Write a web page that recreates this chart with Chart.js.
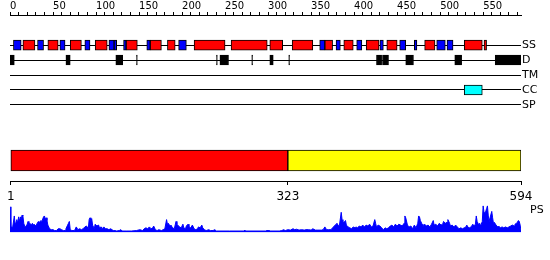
<!DOCTYPE html>
<html>
<head>
<meta charset="utf-8">
<script src="https://cdn.jsdelivr.net/npm/chart.js@4/dist/chart.umd.min.js"></script>
<style>
    html, body { margin: 0; padding: 0; background: #fff; }
    #wrap { position: relative; width: 550px; height: 260px; overflow: hidden; }
    #wrap canvas { position: absolute; left: 0; }
</style>
</head>
<body>
<div id="wrap">
    <canvas id="ruler" width="550" height="20" style="top:0"></canvas>
    <canvas id="tracks" width="550" height="90" style="top:30px"></canvas>
    <canvas id="domains" width="550" height="75" style="top:130px"></canvas>
    <canvas id="profile" width="550" height="45" style="top:195px"></canvas>
</div>
<script>
const seqLength = 594;
const rulerStep = 10;
const rulerLabelStep = 50;
const trackNames = ['SS', 'D', 'TM', 'CC', 'SP'];

// secondary structure: helix (red) and strand (blue)
const helices = [[15, 29], [44, 56], [70, 83], [99, 113], [135, 148], [163, 176], [183, 192],
    [214, 250], [257, 299], [302, 317], [328, 352], [366, 375], [388, 399], [414, 429],
    [438, 450], [482, 494], [528, 549], [551, 554]];
const strands = [[4, 13], [32, 39], [58, 64], [87, 93], [115, 121], [121, 124], [132, 135],
    [159, 163], [196, 205], [360, 366], [379, 384], [403, 409], [430, 434], [453, 460],
    [470, 473], [496, 506], [508, 515]];
const disorder = [[0, 5], [65, 70], [123, 131], [147, 148], [240, 241], [244, 254], [281, 282],
    [302, 306], [324, 325], [426, 432], [433, 440], [460, 469], [517, 525], [564, 594]];
const transmembrane = [];
const coiledCoils = [[528, 549]];
const signalPeptide = [];

// domain split
const domainBounds = [[1, 323], [323, 594]];
const domainColors = ['#ff0000', '#ffff00'];
const positionTicks = [1, 323, 594];

// PS profile
const psMax = 30;
const psPos = [0, 1, 2, 3, 5, 6, 8, 9, 10, 11, 12, 13, 14, 15, 16, 17, 18, 20, 21, 22, 23, 25, 26, 27, 28, 30,
    31, 33, 34, 36, 37, 39, 40, 41, 42, 43, 44, 46, 48, 50, 52, 54, 56, 58, 60, 62, 64, 65, 67, 68, 69, 70,
    72, 75, 77, 79, 81, 83, 85, 87, 89, 91, 92, 93, 94, 95, 96, 98, 99, 101, 103, 104, 106, 107, 109, 111,
    113, 115, 117, 120, 122, 124, 127, 128, 131, 135, 141, 147, 151, 154, 156, 158, 160, 162, 164, 166,
    167, 169, 171, 173, 176, 178, 180, 182, 183, 184, 186, 187, 189, 191, 193, 194, 196, 197, 199, 201,
    202, 204, 205, 207, 208, 210, 212, 214, 216, 218, 219, 221, 223, 224, 226, 228, 231, 233, 236, 238,
    240, 255, 272, 273, 274, 297, 298, 301, 303, 313, 316, 318, 320, 323, 326, 329, 331, 333, 336, 339,
    342, 344, 347, 350, 352, 355, 358, 362, 364, 366, 368, 370, 373, 375, 377, 379, 380, 382, 383, 385,
    386, 387, 389, 390, 391, 393, 395, 397, 399, 401, 402, 404, 406, 408, 410, 412, 414, 416, 418, 420,
    422, 424, 425, 426, 428, 430, 432, 434, 436, 438, 440, 442, 444, 446, 448, 450, 452, 454, 456, 458,
    459, 460, 462, 464, 466, 468, 470, 472, 474, 475, 476, 477, 479, 480, 482, 484, 486, 488, 490, 492,
    493, 495, 497, 499, 501, 503, 504, 506, 508, 509, 511, 512, 514, 516, 518, 520, 522, 524, 526, 528,
    530, 531, 532, 534, 536, 538, 539, 541, 542, 543, 545, 546, 547, 549, 550, 551, 552, 554, 555, 556,
    557, 558, 560, 561, 562, 563, 565, 567, 568, 570, 572, 574, 576, 578, 580, 582, 584, 586, 587, 589,
    591, 592, 593, 594];
const psVal = [28, 7, 6, 5, 18, 8, 14, 10, 17, 12, 17, 14, 19, 18, 10, 7, 6, 9, 12, 7, 10, 8, 10, 8, 9, 7,
    9, 12, 11, 13, 12, 17, 18, 15, 16, 13, 8, 4, 3, 3, 2, 2, 4, 4, 3, 2, 2, 4, 8, 10, 12, 3,
    2, 2, 6, 3, 4, 3, 4, 6, 7, 4, 14, 16, 13, 15, 8, 4, 9, 7, 8, 5, 6, 4, 6, 4,
    4, 3, 4, 2, 2, 1.5, 2, 3, 1.5, 1.5, 1.5, 2, 3, 2, 4, 5, 4, 6, 4, 5,
    7, 3, 2, 3, 2, 3, 4, 14, 9, 10, 7, 8, 5, 4, 12, 9, 7, 6, 5, 9,
    5, 4, 7, 9, 6, 5, 8, 4, 3, 4, 6, 5, 8, 5, 3, 2, 3, 2, 2, 3,
    1.5, 1.5, 1.5, 2.5, 1.5, 1.5, 2, 2, 1.5, 1.5, 2, 3, 2, 3, 2.5, 4, 3, 3.5, 2.5, 3,
    2.5, 3, 3, 2.5, 4, 2.5, 2.5, 2.5, 3, 6, 3, 3, 3, 5, 7, 9, 10, 7, 8, 22,
    14, 10, 12, 13, 8, 6, 5, 4, 6, 5, 6, 5, 7, 6, 8, 6, 8, 7, 9, 6,
    7, 14, 10, 6, 8, 7, 5, 3, 5, 4, 5, 7, 8, 6, 9, 7, 9, 8, 7, 10,
    18, 16, 8, 6, 7, 4, 8, 5, 10, 18, 17, 13, 9, 6, 9, 7, 8, 6, 9, 13,
    8, 9, 7, 10, 8, 9, 12, 10, 11, 14, 10, 7, 8, 6, 8, 6, 4, 5, 4, 5,
    6, 8, 6, 5, 6, 9, 7, 9, 18, 12, 8, 10, 7, 12, 29, 22, 20, 26, 29, 18,
    12, 16, 23, 16, 10, 11, 8, 6, 7, 5, 6, 5, 6, 5, 6, 7, 8, 7, 9, 10,
    13, 12, 8, 2];

Chart.defaults.font.family = "'DejaVu Sans', sans-serif";
Chart.defaults.color = '#000';
Chart.defaults.animation = false;
Chart.defaults.plugins.legend.display = false;
Chart.defaults.plugins.tooltip.enabled = false;

function segmentSet(segs, track, color) {
    return {
        data: segs.map(s => ({ x: s, y: track })),
        backgroundColor: color,
        borderColor: '#000',
        borderWidth: 1,
        borderSkipped: false,
        barThickness: 10,
        grouped: false
    };
}

// ruler on top
new Chart(document.getElementById('ruler'), {
    type: 'line',
    data: { datasets: [] },
    options: {
        responsive: false,
        layout: { padding: { left: 10, right: 29 } },
        scales: {
            x: {
                type: 'linear', position: 'top', min: 0, max: seqLength,
                grid: { drawOnChartArea: false, color: '#000', tickLength: 3 },
                border: { color: '#000' },
                ticks: {
                    stepSize: rulerStep, includeBounds: false, autoSkip: false, maxRotation: 0,
                    align: 'start', padding: 0, font: { size: 10 },
                    callback: v => (v % rulerLabelStep === 0 ? String(v) : '')
                },
                afterFit: s => { s.height = 15; s.paddingLeft = 0; s.paddingRight = 0; }
            },
            y: { display: false }
        }
    }
});

// feature tracks
new Chart(document.getElementById('tracks'), {
    type: 'bar',
    data: {
        labels: trackNames,
        datasets: [
            segmentSet(helices, 'SS', '#ff0000'),
            segmentSet(strands, 'SS', '#0000ff'),
            segmentSet(disorder, 'D', '#000000'),
            segmentSet(transmembrane, 'TM', '#808080'),
            segmentSet(coiledCoils, 'CC', '#00ffff'),
            segmentSet(signalPeptide, 'SP', '#808080')
        ]
    },
    options: {
        indexAxis: 'y',
        responsive: false,
        layout: { padding: { left: 10, top: 7.5, bottom: 7.5 } },
        scales: {
            x: { type: 'linear', min: 0, max: seqLength, display: false },
            y: {
                type: 'category', position: 'right', offset: true,
                grid: { offset: false, color: '#000', lineWidth: 1, drawTicks: false },
                border: { display: false },
                ticks: { autoSkip: false, padding: 1, font: { size: 11 } },
                afterFit: s => { s.width = 29; }
            }
        }
    }
});

// domain bar + position axis
new Chart(document.getElementById('domains'), {
    type: 'bar',
    data: {
        labels: ['domains'],
        datasets: [{
            data: domainBounds.map(b => ({ x: b, y: 'domains' })),
            backgroundColor: domainColors,
            borderColor: '#000',
            borderWidth: 1,
            borderSkipped: false,
            barThickness: 21
        }]
    },
    options: {
        indexAxis: 'y',
        responsive: false,
        layout: { padding: { left: 10, right: 29, top: 10 } },
        scales: {
            x: {
                type: 'linear', position: 'bottom', min: 0, max: seqLength,
                grid: { drawOnChartArea: false, color: '#000', tickLength: 4 },
                border: { color: '#000' },
                ticks: { autoSkip: false, maxRotation: 0, padding: 5, font: { size: 12 }, callback: v => String(v) },
                afterBuildTicks: s => { s.ticks = positionTicks.map(v => ({ value: v })); },
                afterFit: s => { s.height = 24; s.paddingLeft = 0; s.paddingRight = 0; }
            },
            y: { type: 'category', display: false }
        }
    }
});

// PS profile
new Chart(document.getElementById('profile'), {
    type: 'line',
    data: {
        datasets: [{
            data: psPos.map((p, i) => ({ x: p, y: psVal[i] })),
            borderColor: '#0000ff',
            backgroundColor: '#0000ff',
            borderWidth: 1,
            pointRadius: 0,
            tension: 0,
            fill: 'origin'
        }]
    },
    options: {
        responsive: false,
        layout: { padding: { left: 10, top: 10, bottom: 5 } },
        scales: {
            x: { type: 'linear', min: 0, max: seqLength, display: false },
            y: {
                min: 0, max: psMax, position: 'right',
                grid: { display: false },
                border: { display: false },
                afterBuildTicks: s => { s.ticks = [{ value: psMax * 0.8 }]; },
                ticks: { padding: 1, font: { size: 11 }, callback: () => 'PS' },
                afterFit: s => { s.width = 29; }
            }
        }
    }
});
</script>
</body>
</html>
